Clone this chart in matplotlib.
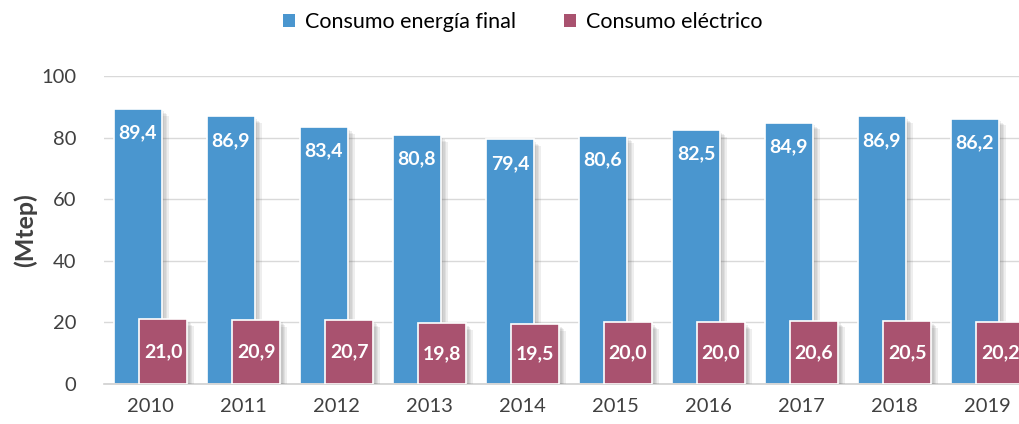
import matplotlib
matplotlib.use("Agg")
import matplotlib.pyplot as plt
import matplotlib.patheffects as pe
from matplotlib.patches import Patch
import numpy as np

plt.rcParams['font.family'] = ['Lato', 'DejaVu Sans']

years = ['2010', '2011', '2012', '2013', '2014', '2015', '2016', '2017', '2018', '2019']
energia_final = [89.4, 86.9, 83.4, 80.8, 79.4, 80.6, 82.5, 84.9, 86.9, 86.2]
electrico = [21.0, 20.9, 20.7, 19.8, 19.5, 20.0, 20.0, 20.6, 20.5, 20.2]
yticks = [0, 20, 40, 60, 80, 100]

blue = '#4A96CF'
maroon = '#A9526F'
txt = '#404040'

fig = plt.figure(figsize=(10.19, 4.24), dpi=100)
ax = fig.add_axes([104/1019, 1 - 384/424, (1034-104)/1019, (384-76)/424])

x = np.arange(len(years))
w = 0.51
off = 0.135
shadow = [pe.SimplePatchShadow(offset=(d, -d), shadow_rgbFace='#606060', alpha=0.10)
          for d in (5, 4, 3, 2, 1)] + [pe.Normal()]

b1 = ax.bar(x - off, energia_final, w, color=blue, edgecolor='white', linewidth=1.2, zorder=2)
b2 = ax.bar(x + off, electrico, w, color=maroon, edgecolor='white', linewidth=1.2, zorder=3)
for b in list(b1) + list(b2):
    b.set_path_effects(shadow)

for xi, v in zip(x, energia_final):
    ax.text(xi - off, v - 7.8, f"{v:.1f}".replace('.', ','), ha='center', va='center',
            color='white', fontsize=14, fontweight='bold', zorder=4)
for xi, v in zip(x, electrico):
    ax.text(xi + off, v / 2, f"{v:.1f}".replace('.', ','), ha='center', va='center',
            color='white', fontsize=14, fontweight='bold', zorder=4)

ax.set_xlim(-0.5, 9.5)
ax.set_ylim(0, 100)
ax.set_yticks(yticks)
ax.set_xticks(x)
ax.set_xticklabels(years)
ax.tick_params(axis='both', length=0, labelsize=14.5, colors=txt)
ax.tick_params(axis='x', pad=10)
ax.tick_params(axis='y', pad=20)
ax.grid(axis='y', color='#D9D9D9', linewidth=1, zorder=0)
ax.set_axisbelow(True)
for s in ['top', 'right', 'left']:
    ax.spines[s].set_visible(False)
ax.spines['bottom'].set_color('#D0D0D0')
ax.spines['bottom'].set_linewidth(1.2)

ax.set_ylabel('(Mtep)', fontsize=18, fontweight='bold', color=txt, labelpad=3)

handles = [Patch(facecolor=blue, label='Consumo energía final'),
           Patch(facecolor=maroon, label='Consumo eléctrico')]
fig.legend(handles=handles, loc='center', bbox_to_anchor=(0.513, 1 - 22/424), ncol=2,
           frameon=False, fontsize=15.5, handlelength=0.55, handleheight=0.55,
           handletextpad=0.5, columnspacing=2.2, labelcolor='black')

fig.savefig('out.png', dpi=100)
